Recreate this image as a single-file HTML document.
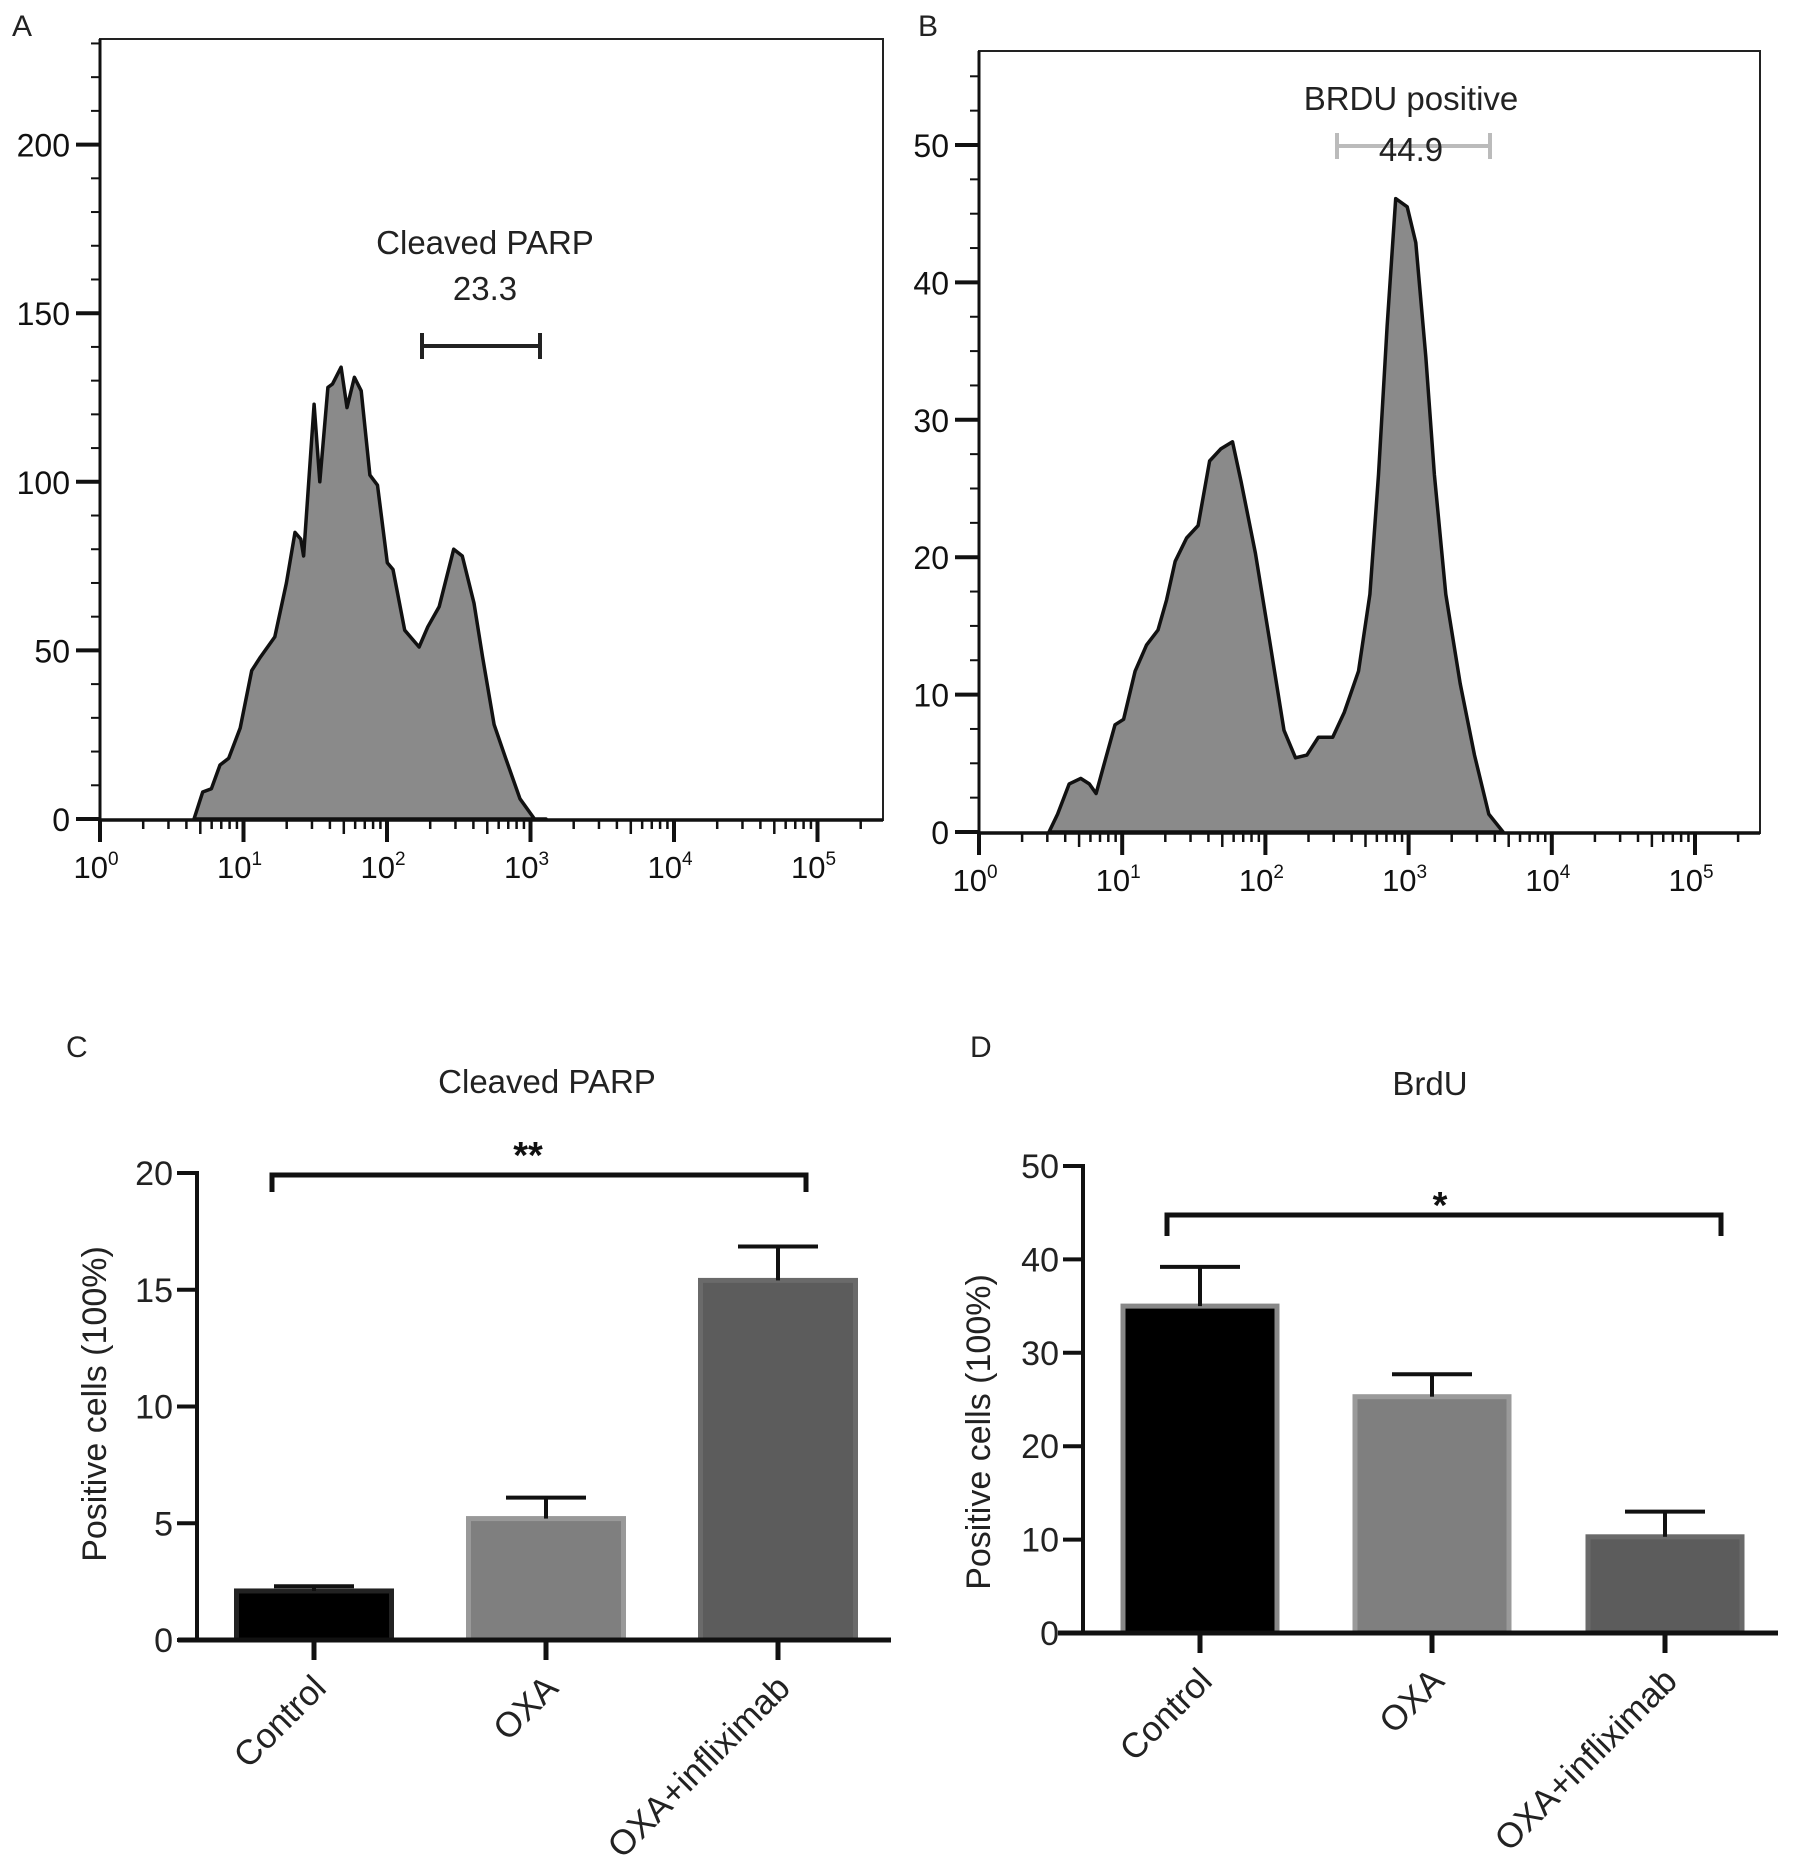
<!DOCTYPE html>
<html><head><meta charset="utf-8"><style>
html,body{margin:0;padding:0;background:#fff;}
svg{display:block;font-family:"Liberation Sans",Arial,sans-serif;}
</style></head><body>
<svg id="fig" width="1795" height="1860" viewBox="0 0 1795 1860" xmlns="http://www.w3.org/2000/svg"></svg>
<script>
// ---- Panel A histogram data (log10 intensity, count) ----
const histALog = [0.655,0.716,0.776,0.836,0.897,0.977,1.057,1.118,1.218,1.299,1.359,1.399,1.419,1.492,1.532,1.588,1.62,1.68,1.721,1.773,1.82,1.881,1.934,2.002,2.042,2.123,2.224,2.284,2.364,2.465,2.525,2.606,2.666,2.746,2.827,2.927,3.028,3.108];
const histACount = [0,8,9,16,18,27,44,48,54,70,85,83,78,123,100,128,129,134,122,131,127,102,99,76,74,56,51,57,63,80,78,64,48,28,18,6,0,0];
// ---- Panel B histogram data ----
const histBLog = [0.489,0.549,0.63,0.71,0.77,0.818,0.87,0.95,1.01,1.09,1.17,1.25,1.31,1.37,1.45,1.53,1.61,1.69,1.77,1.83,1.93,2.03,2.13,2.21,2.29,2.37,2.47,2.55,2.65,2.73,2.79,2.85,2.91,2.99,3.05,3.12,3.18,3.26,3.36,3.46,3.56,3.66];
const histBCount = [0,1.3,3.5,3.9,3.5,2.8,4.8,7.8,8.2,11.7,13.6,14.7,16.9,19.7,21.4,22.3,27,27.9,28.4,25.5,20.3,13.9,7.4,5.4,5.6,6.9,6.9,8.7,11.7,17.3,26,36.8,46.1,45.5,42.9,34.6,26,17.3,10.8,5.6,1.3,0];
const histYTicksA = [0,50,100,150,200];
const histYTicksB = [0,10,20,30,40,50];
const decades = [0,1,2,3,4,5];
// ---- Bar charts ----
const categories = ["Control","OXA","OXA+infliximab"];
const parpMeans = [2.1,5.2,15.4];
const parpErr = [2.3,6.1,16.85];
const brduMeans = [35,25.3,10.3];
const brduErr = [39.2,27.7,13.0];
const parpTicks = [0,5,10,15,20];
const brduTicks = [0,10,20,30,40,50];

const NS="http://www.w3.org/2000/svg";
const svg=document.getElementById('fig');
function mk(tag,attrs,parent,text){const e=document.createElementNS(NS,tag);for(const k in attrs)e.setAttribute(k,attrs[k]);if(text!==undefined)e.textContent=text;(parent||svg).appendChild(e);return e;}

function histPanel(o){
  const g=mk('g',{});
  
  
  const sx=v=>o.x0+(v)*o.dec;
  const sy=v=>o.y0-(v)*o.py;
  let d='M'+sx(o.lx[0])+','+sy(0);
  for(let i=0;i<o.lx.length;i++) d+=' L'+sx(o.lx[i]).toFixed(1)+','+sy(o.cy[i]).toFixed(1);
  const area=mk('path',{d:d+' Z',fill:'#8a8a8a',stroke:'#111','stroke-width':3.5,'stroke-linejoin':'round'},g);
  
  
  const box=mk('rect',{x:o.L,y:o.T,width:o.R-o.L,height:o.B-o.T,fill:'none',stroke:'#222','stroke-width':2},g);
  
  
  mk('line',{x1:o.L,y1:o.B,x2:o.R,y2:o.B,stroke:'#111','stroke-width':3.5},g);
  mk('line',{x1:o.L,y1:o.T,x2:o.L,y2:o.B,stroke:'#111','stroke-width':3},g);
  for(let v=0; sy(v)>=o.T; v+=o.minorY){
    const major=Math.abs(v/o.majorY-Math.round(v/o.majorY))<1e-6;
    mk('line',{x1:o.L-(major?24:9),y1:sy(v),x2:o.L,y2:sy(v),stroke:'#111','stroke-width':major?4:2},g);
  }
  o.yt.forEach(v=>{
    const t=mk('text',{x:o.L-30,y:sy(v)+12,'text-anchor':'end','font-size':32,fill:'#111'},g,String(v));
    
    
  });
  for(let dd=0;dd<=5;dd++){
    mk('line',{x1:sx(dd),y1:o.B,x2:sx(dd),y2:o.B+22,stroke:'#111','stroke-width':4},g);
    for(let m=2;m<=9;m++){
      const p=dd+Math.log10(m);
      if(sx(p)<o.R) mk('line',{x1:sx(p),y1:o.B,x2:sx(p),y2:o.B+(m===5?14:9),stroke:'#111','stroke-width':2.5},g);
    }
  }
  decades.forEach(dd=>{
    const t=mk('text',{x:sx(dd)-4,y:o.B+58,'text-anchor':'middle','font-size':31,fill:'#111'},g);
    mk('tspan',{},t,'10');
    mk('tspan',{'font-size':19,dy:-13},t,String(dd));
    
    
  });
  const gc=o.gateColor;
  const gate=mk('g',{},g);
  
  
  mk('line',{x1:o.g1,y1:o.gy,x2:o.g2,y2:o.gy,stroke:gc,'stroke-width':4},gate);
  mk('line',{x1:o.g1,y1:o.gy-13,x2:o.g1,y2:o.gy+13,stroke:gc,'stroke-width':4},gate);
  mk('line',{x1:o.g2,y1:o.gy-13,x2:o.g2,y2:o.gy+13,stroke:gc,'stroke-width':4},gate);
  const t1=mk('text',{x:o.tx,y:o.ty1,'text-anchor':'middle','font-size':33,fill:'#222'},g,o.t1);
  
  
  const t2=mk('text',{x:o.tx,y:o.ty2,'text-anchor':'middle','font-size':33,fill:'#222'},g,o.t2);
  
  
  const pl=mk('text',{x:o.plx,y:36,'font-size':30,fill:'#222'},g,o.pl);
  
  
}

histPanel({name:'panel-a-histogram',lx:histALog,cy:histACount,L:100,T:39,R:883,B:820,x0:100,dec:143.5,y0:819,py:(819-144.6)/200,minorY:10,majorY:50,yt:histYTicksA,
  g1:422,g2:540,gy:346,gateColor:'#222',tx:485,ty1:254,ty2:300,t1:'Cleaved PARP',t2:'23.3',plx:12,pl:'A'});
histPanel({name:'panel-b-histogram',lx:histBLog,cy:histBCount,L:979,T:51,R:1760,B:833,x0:979,dec:143.2,y0:832,py:(832-145)/50,minorY:2.5,majorY:10,yt:histYTicksB,
  g1:1337,g2:1490,gy:146,gateColor:'#bbb',tx:1411,ty1:110,ty2:161,t1:'BRDU positive',t2:'44.9',plx:918,pl:'B'});

function barPanel(o){
  const g=mk('g',{});
  
  
  const sy=v=>o.y0-v*o.py;
  const fills=['#000','#7f7f7f','#5c5c5c'];
  const edges=o.edges;
  categories.forEach((c,i)=>{
    const cx=o.cx[i];
    const bw=o.bw;
    const b=mk('rect',{x:cx-bw/2,y:sy(o.means[i]),width:bw,height:sy(0)-sy(o.means[i]),fill:fills[i],stroke:edges[i],'stroke-width':5},g);
    
    
    const eb=mk('g',{},g);
    
    
    mk('line',{x1:cx,y1:sy(o.means[i]),x2:cx,y2:sy(o.err[i]),stroke:'#111','stroke-width':4},eb);
    mk('line',{x1:cx-40,y1:sy(o.err[i]),x2:cx+40,y2:sy(o.err[i]),stroke:'#111','stroke-width':4},eb);
    mk('line',{x1:cx,y1:o.y0,x2:cx,y2:o.y0+20,stroke:'#111','stroke-width':5},g);
    const t=mk('text',{x:0,y:0,'text-anchor':'end','font-size':35,fill:'#222',transform:`translate(${cx+14},${o.y0+50}) rotate(-45)`},g,c);
    
    
  });
  mk('line',{x1:o.ax,y1:sy(o.ticks[o.ticks.length-1])-2,x2:o.ax,y2:o.y0,stroke:'#111','stroke-width':4},g);
  mk('line',{x1:o.xl,y1:o.y0,x2:o.xr,y2:o.y0,stroke:'#111','stroke-width':5},g);
  o.ticks.forEach(v=>{
    mk('line',{x1:o.ax-20,y1:sy(v),x2:o.ax,y2:sy(v),stroke:'#111','stroke-width':4},g);
    const t=mk('text',{x:o.ax-24,y:sy(v)+12,'text-anchor':'end','font-size':34,fill:'#222'},g,String(v));
    
    
  });
  const yl=mk('text',{x:0,y:0,'text-anchor':'middle','font-size':34,fill:'#222',transform:`translate(${o.ylx},${o.yly}) rotate(-90)`},g,'Positive cells (100%)');
  
  
  const ti=mk('text',{x:o.tix,y:o.tiy,'text-anchor':'middle','font-size':33,fill:'#222'},g,o.title);
  
  
  const br=mk('path',{d:`M${o.b1},${o.by2} L${o.b1},${o.by} L${o.b2},${o.by} L${o.b2},${o.by2}`,fill:'none',stroke:'#111','stroke-width':5},g);
  
  
  const st=mk('text',{x:o.sx,y:o.sy,'text-anchor':'middle','font-size':38,'font-weight':'bold',fill:'#111'},g,o.star);
  
  
  const pl=mk('text',{x:o.plx,y:1057,'font-size':30,fill:'#222'},g,o.pl);
  
  
}
barPanel({name:'panel-c-bar-chart',means:parpMeans,err:parpErr,ticks:parpTicks,y0:1640,py:(1640-1173)/20,ax:197,xl:178,xr:891,cx:[314,546,778],bw:155,edges:['#222','#999','#6a6a6a'],
  ylx:106,yly:1404,tix:547,tiy:1093,title:'Cleaved PARP',b1:272,b2:806,by:1175,by2:1192,sx:528,sy:1168,star:'**',plx:66,pl:'C'});
barPanel({name:'panel-d-bar-chart',means:brduMeans,err:brduErr,ticks:brduTicks,y0:1633,py:(1633-1166)/50,ax:1083,xl:1058,xr:1778,cx:[1200,1432,1665],bw:154,edges:['#888','#9a9a9a','#6a6a6a'],
  ylx:990,yly:1432,tix:1430,tiy:1095,title:'BrdU',b1:1167,b2:1721,by:1215,by2:1236,sx:1440,sy:1218,star:'*',plx:970,pl:'D'});
</script>
</body></html>
